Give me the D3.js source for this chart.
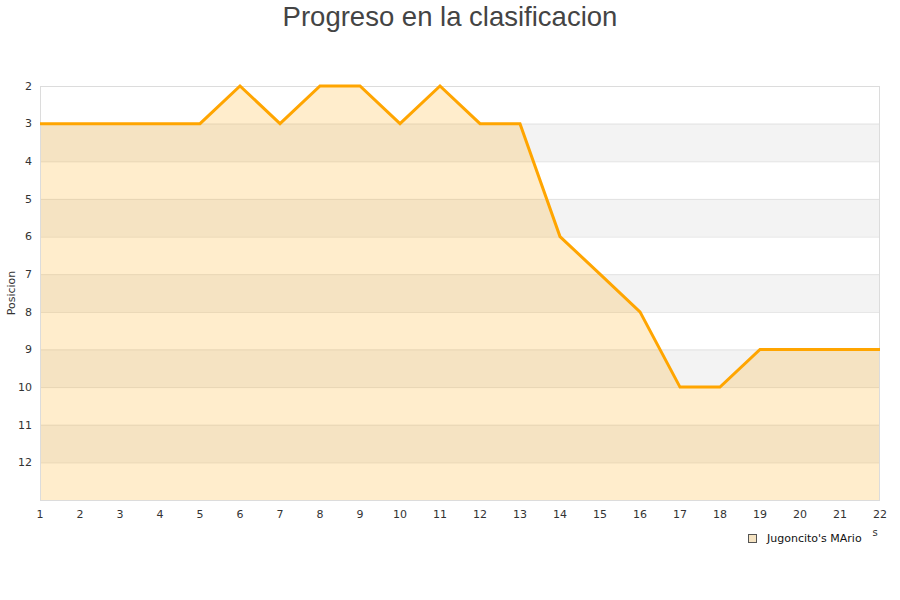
<!DOCTYPE html>
<html><head><meta charset="utf-8">
<script src="https://cdn.jsdelivr.net/npm/d3@7"></script>
<style>body{margin:0;background:#fff}svg{display:block}</style>
</head><body>
<svg id="c" width="900" height="600"></svg>
<script>
const jornadas = [1,2,3,4,5,6,7,8,9,10,11,12,13,14,15,16,17,18,19,20,21,22];
const posiciones = [3,3,3,3,3,2,3,2,2,3,2,3,3,6,7,8,10,10,9,9,9,9];
const yTicks = [2,3,4,5,6,7,8,9,10,11,12];
const seriesName = "Jugoncito's MArio";
const title = "Progreso en la clasificacion";
const yTitle = "Posicion";

const svg = d3.select("#c");
const m = {l:40, r:880, t:86, b:500};
const x = d3.scaleLinear().domain([1,22]).range([m.l, m.r]);
const y = d3.scaleLinear().domain([2,13]).range([m.t, m.b]);

// alternating bands
const bands = d3.range(2,13);
svg.append("g").selectAll("rect").data(bands).join("rect")
  .attr("x", m.l).attr("width", m.r-m.l)
  .attr("y", d=>y(d)).attr("height", d=>y(d+1)-y(d))
  .attr("fill", d=> d%2===1 ? "#f3f3f3" : "#ffffff");

// grid lines
svg.append("g").selectAll("line").data(d3.range(3,13)).join("line")
  .attr("x1", m.l).attr("x2", m.r)
  .attr("y1", d=>y(d)+0.5).attr("y2", d=>y(d)+0.5)
  .attr("stroke", "#e2e2e2").attr("stroke-width",1);

// area
const data = jornadas.map((j,i)=>({j, p:posiciones[i]}));
svg.append("path").datum(data)
  .attr("d", d3.area().x(d=>x(d.j)).y0(y(13)).y1(d=>y(d.p)))
  .attr("fill", "rgba(255,165,0,0.2)");

// border
svg.append("rect").attr("x", m.l+0.5).attr("y", m.t+0.5)
  .attr("width", m.r-m.l-1).attr("height", m.b-m.t)
  .attr("fill","none").attr("stroke","#dcdcdc");

// line
svg.append("path").datum(data)
  .attr("d", d3.line().x(d=>x(d.j)).y(d=>y(d.p)))
  .attr("fill","none").attr("stroke","#ffa500").attr("stroke-width",3)
  .attr("stroke-linejoin","miter");

// y ticks
svg.append("g").selectAll("text").data(yTicks).join("text")
  .attr("x", 32).attr("y", d=>y(d)).attr("dy","0.35em")
  .attr("text-anchor","end")
  .attr("font-family","DejaVu Sans").attr("font-size",11).attr("fill","#333")
  .text(d=>d);

// x ticks
svg.append("g").selectAll("text").data(jornadas).join("text")
  .attr("x", d=>x(d)).attr("y", 514).attr("dy","0.35em")
  .attr("text-anchor","middle")
  .attr("font-family","DejaVu Sans").attr("font-size",11).attr("fill","#333")
  .text(d=>d);

// x title fragment
svg.append("text").attr("x",875).attr("y",532).attr("dy","0.35em")
  .attr("text-anchor","middle").attr("font-family","DejaVu Sans")
  .attr("font-size",10).attr("fill","#333").text("s");

// y title
svg.append("text").attr("transform","translate(11,293) rotate(-90)")
  .attr("dy","0.35em").attr("text-anchor","middle")
  .attr("font-family","DejaVu Sans").attr("font-size",11).attr("fill","#333")
  .text(yTitle);

// title
svg.append("text").attr("x",450).attr("y",16).attr("dy","0.35em")
  .attr("text-anchor","middle").attr("font-family","Liberation Sans")
  .attr("font-size",27.5).attr("fill","#444").text(title);

// legend
svg.append("rect").attr("x",748.5).attr("y",534.5).attr("width",8).attr("height",8)
  .attr("fill","#f5e3c2").attr("stroke","#555").attr("stroke-width",1);
svg.append("text").attr("x",767).attr("y",538.5).attr("dy","0.35em")
  .attr("font-family","DejaVu Sans").attr("font-size",11).attr("fill","#111")
  .text(seriesName);
</script>
</body></html>
